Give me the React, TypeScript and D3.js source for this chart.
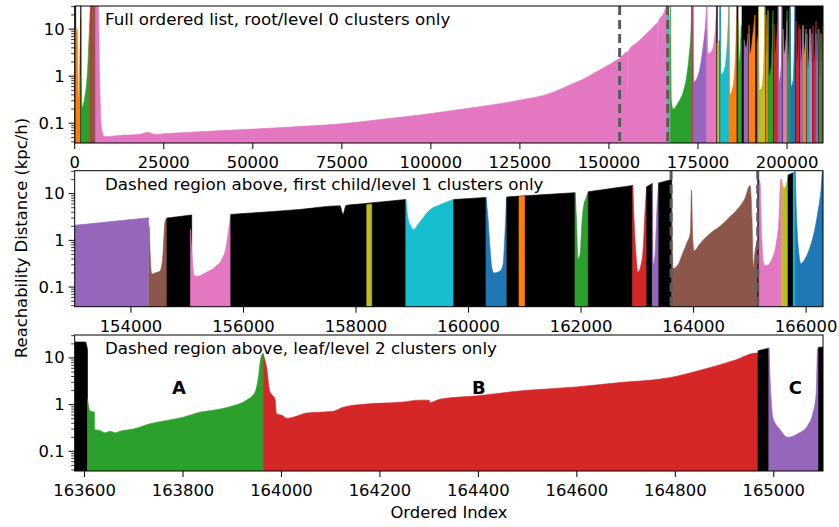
import React from 'react';
import * as d3 from 'd3';

type Pt = [number, number];
type Seg = [number, Pt[]];

// cluster label (-1 = noise) and [ordered index, reachability distance] points
const level0Clusters: Seg[] = [
  [-1, [[0, 40], [281, 40]]],
  [1, [[281, 10], [700, 10], [1039, 0.3], [1400, 2], [1685, 18]]],
  [-1, [[1685, 40], [1770, 40]]],
  [2, [[1770, 1.0], [2107, 0.22], [2809, 0.35], [3652, 1.5], [4073, 8], [4410, 25]]],
  [3, [[4410, 40], [4972, 40]]],
  [5, [[4972, 40], [5899, 40]]],
  [6, [[5899, 40], [6600, 40], [7000, 1], [7400, 0.1], [7865, 0.06], [8427, 0.052], [12640, 0.055], [18260, 0.058],
    [20500, 0.064], [22470, 0.058], [25000, 0.06], [35100, 0.066], [50000, 0.075], [63200, 0.085], [75000, 0.097],
    [85700, 0.12], [97000, 0.15], [111000, 0.21], [125000, 0.31], [133400, 0.43], [139000, 0.65], [143300, 0.9],
    [146600, 1.25], [150300, 1.8], [153000, 2.4], [155300, 3.3], [155350, 0.3], [155450, 3.4], [157900, 5.2],
    [159300, 6.5], [162400, 11], [163700, 13.5], [163750, 2], [163850, 14], [165400, 22], [166300, 35]]],
  [9, [[166380, 20], [166940, 20]]],
  [1, [[166940, 7], [167220, 7]]],
  [2, [[167270, 30], [167550, 0.3], [167980, 0.2], [169380, 0.27], [170790, 0.45], [171830, 1.0], [172470, 2.5], [173040, 10], [173230, 30]]],
  [3, [[173230, 40], [173600, 40]]],
  [4, [[173600, 30], [173740, 0.75], [174720, 0.9], [175560, 1.5], [176400, 4], [177110, 12], [177450, 30]]],
  [6, [[177450, 30], [177810, 3], [178930, 3.5], [179780, 8], [180250, 30]]],
  [-1, [[180250, 40], [180420, 40]]],
  [8, [[180420, 5], [181180, 6]]],
  [-1, [[181180, 40], [181260, 40]]],
  [9, [[181260, 30], [181460, 1.1], [182300, 1.3], [183140, 4], [183700, 30]]],
  [1, [[183700, 30], [183980, 0.4], [184830, 0.6], [185530, 3], [185950, 30]]],
  [-1, [[185950, 40], [186240, 40]]],
  [2, [[186240, 15], [186660, 2], [187220, 12], [187360, 12]]],
  [-1, [[187360, 40], [191990, 40]]],
  [-1, [[193820, 40], [197470, 40]]],
  [-1, [[198600, 40], [200840, 40]]],
  [-1, [[202250, 40], [210110, 40]]],
  [4, [[187920, 6], [188480, 4], [189050, 8]]],
  [1, [[189330, 12], [189610, 3], [190450, 8], [191010, 20]]],
  [4, [[191570, 5], [191990, 8]]],
  [8, [[191990, 30], [192270, 0.5], [192980, 0.6], [193540, 3], [193820, 30]]],
  [1, [[194100, 20], [194380, 3], [194660, 25]]],
  [2, [[194660, 25], [194940, 1.0], [195510, 1.5], [196070, 25]]],
  [3, [[196350, 13], [196630, 3], [197190, 8], [197470, 15]]],
  [4, [[197470, 30], [197760, 0.8], [198320, 1.5], [198600, 30]]],
  [6, [[198880, 10], [199160, 3], [199720, 6], [200000, 15]]],
  [2, [[200000, 25], [200280, 2], [200840, 30]]],
  [0, [[200840, 30], [201130, 0.6], [201690, 0.8], [202250, 30]]],
  [3, [[202530, 15], [202810, 2], [203370, 12]]],
  [4, [[203650, 10], [203930, 2], [204500, 12]]],
  [1, [[204500, 12], [204780, 3], [205340, 10]]],
  [9, [[205620, 8], [205900, 1.5], [206460, 10]]],
  [6, [[206460, 10], [206750, 2], [207030, 8]]],
  [3, [[207310, 12], [207590, 2], [208150, 15]]],
  [4, [[208150, 8], [208430, 2], [208710, 10]]],
  [2, [[208990, 10], [209270, 1], [209550, 8]]],
  [5, [[209550, 8], [209830, 2], [210110, 12]]],
];

const level1Clusters: Seg[] = [
  [4, [[153000, 2.1], [154315, 3.05]]],
  [5, [[154321, 2.0], [154369, 0.19], [154427, 0.2], [154516, 0.22], [154569, 0.5], [154605, 2.5], [154640, 3.0]]],
  [-1, [[154640, 3.0], [155080, 3.5]]],
  [6, [[155058, 1.7], [155085, 0.5], [155120, 0.18], [155174, 0.17], [155316, 0.2], [155494, 0.27], [155618, 0.4], [155689, 0.7], [155743, 2], [155773, 3.5]]],
  [-1, [[155773, 3.6], [157004, 4.6], [157715, 5.5], [157769, 3.6], [157822, 5.6], [158071, 6], [158880, 7.5]]],
  [8, [[158190, 5.8], [158279, 6]]],
  [9, [[158888, 7.5], [158924, 3], [158977, 2.0], [159018, 1.7], [159137, 2.5], [159314, 4.5], [159492, 5.8], [159729, 7.5]]],
  [-1, [[159735, 7.5], [160310, 8.3]]],
  [0, [[160310, 8.3], [160346, 3], [160381, 0.7], [160417, 0.25], [160453, 0.2], [160559, 0.22], [160612, 0.3], [160648, 1.5], [160675, 8]]],
  [-1, [[160680, 8.5], [161892, 10.5]]],
  [1, [[160897, 8.6], [160996, 8.9]]],
  [2, [[161892, 10.5], [161918, 3], [161945, 0.4], [161981, 0.5], [162016, 2.5], [162052, 6], [162087, 8], [162128, 11]]],
  [-1, [[162128, 11], [162917, 15]]],
  [3, [[162917, 15], [162941, 3], [162976, 0.5], [163012, 0.21], [163065, 0.3], [163101, 0.6], [163136, 4], [163166, 14]]],
  [-1, [[163166, 14], [163266, 16.5]]],
  [4, [[163266, 16], [163284, 0.3], [163314, 0.5], [163349, 5], [163380, 17]]],
  [-1, [[163380, 17], [163611, 20]]],
  [5, [[163611, 13], [163625, 0.4], [163634, 0.25], [163723, 0.3], [163812, 0.55], [163883, 0.9], [163945, 1.5], [163963, 12],
    [163981, 1.5], [164007, 0.6], [164114, 0.85], [164167, 1.0], [164292, 1.4], [164469, 2.0], [164647, 3.2], [164771, 4.5],
    [164914, 8], [165003, 15], [165038, 3], [165061, 0.25], [165086, 0.5], [165140, 1.0]]],
  [-1, [[165140, 20], [165162, 20]]],
  [6, [[165162, 18], [165180, 18], [165215, 1], [165251, 0.3], [165304, 0.29], [165393, 0.4], [165464, 0.8], [165518, 3], [165548, 20], [165565, 20]]],
  [8, [[165565, 20], [165606, 13], [165642, 15], [165678, 22]]],
  [-1, [[165678, 25], [165772, 28]]],
  [9, [[165772, 28], [165805, 30]]],
  [0, [[165805, 30], [165837, 2], [165873, 0.5], [165908, 0.32], [165979, 0.4], [166068, 0.7], [166157, 1.8], [166211, 4.2], [166264, 12], [166291, 30], [166300, 30]]],
];

const leafClusters: Seg[] = [
  [-1, [[163580, 22], [163602, 22], [163606, 15]]],
  [2, [[163606, 1.3], [163611, 0.74], [163618, 0.7], [163620, 0.7], [163621, 0.29], [163631, 0.28], [163642, 0.25], [163652, 0.27],
    [163662, 0.25], [163672, 0.27], [163699, 0.3], [163733, 0.39], [163767, 0.46], [163801, 0.54], [163834, 0.69], [163868, 0.78],
    [163902, 0.95], [163929, 1.25], [163946, 1.82], [163953, 3.8], [163958, 10], [163963, 12.7]]],
  [3, [[163963, 11.8], [163970, 6.1], [163976, 1.97], [163980, 1.67], [163987, 1.31], [163990, 0.63], [164003, 0.58], [164010, 0.51],
    [164024, 0.54], [164051, 0.66], [164105, 0.72], [164125, 0.88], [164173, 1.03], [164240, 1.12], [164281, 1.25], [164300, 1.25],
    [164301, 1.11], [164322, 1.31], [164399, 1.55], [164484, 1.97], [164599, 2.4], [164687, 2.97], [164788, 3.78], [164856, 5.65],
    [164924, 9.2], [164964, 12.7], [164968, 12.7]]],
  [-1, [[164968, 14.3], [164990, 16.2]]],
  [4, [[164990, 16.5], [164995, 1.2], [164998, 0.54], [165012, 0.3], [165028, 0.2], [165052, 0.25], [165069, 0.36], [165079, 0.63], [165086, 1.67], [165089, 16], [165091, 16]]],
  [-1, [[165091, 17], [165100, 17]]],
];

const level0Domain: Pt = [0, 210100];
const level1Domain: Pt = [153000, 166300];
const leafDomain: Pt = [163580, 165100];
const yDomain: Pt = [0.038, 31];
const yMajorTicks = [0.1, 1, 10];
const yMajorLabels = ['0.1', '1', '10'];
const level0Ticks = [0, 25000, 50000, 75000, 100000, 125000, 150000, 175000, 200000];
const level1Ticks = [154000, 156000, 158000, 160000, 162000, 164000, 166000];
const leafTicks = [163600, 163800, 164000, 164200, 164400, 164600, 164800, 165000];
const level0Dashes = [153000, 166500];
const level1Dashes = [163600, 165140];
const leafNames: [string, number, number][] = [['A', 163792, 2.35], ['B', 164401, 2.35], ['C', 165044, 2.35]];
const panelTitles = [
  'Full ordered list, root/level 0 clusters only',
  'Dashed region above, first child/level 1 clusters only',
  'Dashed region above, leaf/level 2 clusters only',
];

const W = 839;
const H = 527;
const LEFT = 74.7;
const RIGHT = 823;
const FONT = 'DejaVu Sans, sans-serif';
const FS = 16.4;
const TITLE_FS = 16.7;

const color = (k: number) => (k < 0 ? '#000000' : d3.schemeCategory10[k % 10]);

const minorTicks: number[] = [];
for (let e = -2; e <= 1; e++) {
  for (let m = 2; m <= 9; m++) {
    const v = m * Math.pow(10, e);
    if (v >= yDomain[0] && v <= yDomain[1]) minorTicks.push(v);
  }
}

interface PanelProps {
  id: string;
  top: number;
  bottom: number;
  domain: Pt;
  segs: Seg[];
  ticks: number[];
  dashes: number[];
  title: string;
  names?: [string, number, number][];
}

function Panel({ id, top, bottom, domain, segs, ticks, dashes, title, names }: PanelProps) {
  const x = d3.scaleLinear().domain(domain).range([LEFT, RIGHT]);
  const y = d3.scaleLog().domain(yDomain).range([bottom, top]);
  const area = d3
    .area<Pt>()
    .x((d) => x(d[0]))
    .y0(bottom)
    .y1((d) => y(Math.min(d[1], 200)))
    .curve(d3.curveMonotoneX);
  return (
    <g>
      <defs>
        <clipPath id={id}>
          <rect x={LEFT} y={top} width={RIGHT - LEFT} height={bottom - top} />
        </clipPath>
      </defs>
      <g clipPath={`url(#${id})`}>
        {segs.map((s, i) => (
          <path key={i} d={area(s[1]) || ''} fill={color(s[0])} stroke={color(s[0])} strokeWidth={0.6} />
        ))}
        {dashes.map((d, i) => (
          <line key={i} x1={x(d)} x2={x(d)} y1={top} y2={bottom} stroke="#5a5a5a" strokeWidth={3} strokeDasharray="9,5" />
        ))}
      </g>
      <rect x={LEFT} y={top} width={RIGHT - LEFT} height={bottom - top} fill="none" stroke="#000" strokeWidth={1} />
      {yMajorTicks.map((t, i) => (
        <g key={i}>
          <line x1={LEFT - 6} x2={LEFT} y1={y(t)} y2={y(t)} stroke="#000" strokeWidth={1} />
          <text x={LEFT - 10} y={y(t)} textAnchor="end" dominantBaseline="central" fontSize={FS} fontFamily={FONT}>
            {yMajorLabels[i]}
          </text>
        </g>
      ))}
      {minorTicks.map((t, i) => (
        <line key={i} x1={LEFT - 3.5} x2={LEFT} y1={y(t)} y2={y(t)} stroke="#000" strokeWidth={0.8} />
      ))}
      {ticks.map((t, i) => (
        <g key={i}>
          <line x1={x(t)} x2={x(t)} y1={bottom} y2={bottom + 6} stroke="#000" strokeWidth={1} />
          <text x={x(t)} y={bottom + 25} textAnchor="middle" fontSize={FS} fontFamily={FONT}>
            {String(t)}
          </text>
        </g>
      ))}
      <text x={105} y={top + 19} fontSize={TITLE_FS} fontFamily={FONT}>
        {title}
      </text>
      {(names || []).map((n, i) => (
        <text key={i} x={x(n[1])} y={y(n[2])} textAnchor="middle" dominantBaseline="central" fontSize={18} fontWeight="bold" fontFamily={FONT}>
          {n[0]}
        </text>
      ))}
    </g>
  );
}

export default function App() {
  return (
    <div style={{ position: 'fixed', left: 0, top: 0, width: W, height: H, background: '#fff' }}>
      <svg width={W} height={H} viewBox={`0 0 ${W} ${H}`} style={{ display: 'block' }}>
        <rect width={W} height={H} fill="#fff" />
        <Panel id="p0" top={6} bottom={143} domain={level0Domain} segs={level0Clusters} ticks={level0Ticks} dashes={level0Dashes} title={panelTitles[0]} />
        <Panel id="p1" top={170.7} bottom={306.7} domain={level1Domain} segs={level1Clusters} ticks={level1Ticks} dashes={level1Dashes} title={panelTitles[1]} />
        <Panel id="p2" top={335} bottom={471} domain={leafDomain} segs={leafClusters} ticks={leafTicks} dashes={[]} title={panelTitles[2]} names={leafNames} />
        <text transform="translate(21,238) rotate(-90)" textAnchor="middle" dominantBaseline="central" fontSize={FS} fontFamily={FONT}>
          Reachability Distance (kpc/h)
        </text>
        <text x={449} y={518} textAnchor="middle" fontSize={FS} fontFamily={FONT}>
          Ordered Index
        </text>
      </svg>
    </div>
  );
}
